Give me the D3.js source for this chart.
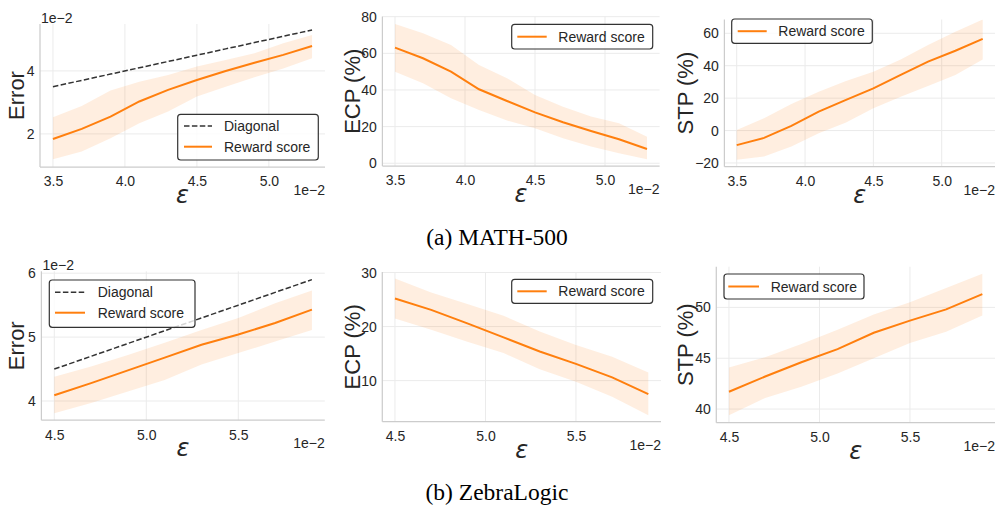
<!DOCTYPE html>
<html>
<head>
<meta charset="utf-8">
<script src="https://cdn.jsdelivr.net/npm/d3@7"></script>
<style>
  body { margin: 0; background: #fff; }
  svg { display: block; }
  .tick text { font-family: 'Liberation Sans', Arial, sans-serif; font-size: 14px; fill: #262626; }
</style>
</head>
<body>
<div id="chart"></div>
<script>
// epsilon values (x 1e-2)
const epsMath = [3.5, 3.7, 3.9, 4.1, 4.3, 4.5, 4.7, 4.9, 5.1, 5.3];
const epsZebra = [4.5, 4.7, 4.9, 5.1, 5.3, 5.5, 5.7, 5.9];

// MATH-500 (error in 1e-2)
const mathErrMean = [1.84, 2.16, 2.55, 3.03, 3.40, 3.71, 4.00, 4.26, 4.51, 4.79];
const mathErrHi = [2.53, 2.89, 3.38, 3.66, 3.87, 4.14, 4.35, 4.56, 4.88, 5.14];
const mathErrLo = [1.20, 1.44, 1.86, 2.34, 2.71, 3.19, 3.50, 3.80, 4.08, 4.40];
const mathEcpMean = [63.1, 57.3, 50.0, 40.4, 34.0, 27.8, 22.4, 17.6, 13.1, 7.8];
const mathEcpHi = [76.0, 70.9, 64.5, 53.6, 46.4, 37.3, 30.9, 25.5, 21.8, 14.5];
const mathEcpLo = [50.0, 43.6, 35.5, 29.1, 23.3, 19.1, 13.6, 9.1, 5.5, 2.2];
const mathStpMean = [-9.0, -4.5, 2.9, 11.7, 18.9, 26.0, 34.3, 42.5, 49.2, 56.6];
const mathStpHi = [0.4, 7.6, 16.4, 24.0, 30.6, 36.3, 43.9, 52.7, 60.9, 68.5];
const mathStpLo = [-18.0, -16.0, -9.8, -1.6, 4.9, 13.7, 20.9, 27.5, 34.3, 43.9];

// ZebraLogic
const zebraErrMean = [4.09, 4.28, 4.48, 4.68, 4.88, 5.04, 5.22, 5.43];
const zebraErrHi = [4.38, 4.54, 4.72, 4.91, 5.11, 5.30, 5.53, 5.73];
const zebraErrLo = [3.81, 3.97, 4.15, 4.33, 4.57, 4.75, 4.93, 5.11];
const zebraEcpMean = [25.2, 23.1, 20.6, 18.0, 15.4, 13.1, 10.6, 7.5];
const zebraEcpHi = [28.9, 26.3, 24.2, 22.0, 19.1, 16.6, 14.4, 11.5];
const zebraEcpLo = [21.5, 19.4, 17.2, 15.1, 12.1, 9.8, 7.0, 3.6];
const zebraStpMean = [41.7, 43.2, 44.6, 45.9, 47.5, 48.7, 49.8, 51.3];
const zebraStpHi = [44.1, 45.1, 46.4, 47.8, 49.3, 50.5, 51.9, 53.3];
const zebraStpLo = [39.4, 41.1, 42.2, 43.5, 45.0, 46.5, 47.6, 49.2];

const xTicksMath = [3.5, 4.0, 4.5, 5.0];
const xTicksZebra = [4.5, 5.0, 5.5];

const captions = ['(a) MATH-500', '(b) ZebraLogic'];

const W = 996;
const H = 506;
const ORANGE = '#ff7f0e';
const TEXT = '#262626';
const FONT = "'Liberation Sans', Arial, sans-serif";

const panels = [
  { box: [40, 325, 24, 167], xd: [3.41, 5.39], yd: [0.95, 5.49], eps: epsMath, xt: xTicksMath, yt: [2, 4],
    mean: mathErrMean, lo: mathErrLo, hi: mathErrHi, label: 'Error', labelX: 16, diag: true, yOff: true,
    leg: [177.7, 114.3, 140.6, 45.7], legRows: [126, 146.7], legX: [184, 212, 224] },
  { box: [382.4, 659.6, 16.5, 166], xd: [3.41, 5.39], yd: [-1.5, 80.1], eps: epsMath, xt: xTicksMath, yt: [0, 20, 40, 60, 80],
    mean: mathEcpMean, lo: mathEcpLo, hi: mathEcpHi, label: 'ECP (%)', labelX: 352,
    leg: [511.7, 24.3, 141, 24.7], legRows: [36.7], legX: [517.3, 546.7, 558.3] },
  { box: [724.4, 995, 19.5, 166.7], xd: [3.41, 5.39], yd: [-22.3, 68.5], eps: epsMath, xt: xTicksMath, yt: [-20, 0, 20, 40, 60],
    mean: mathStpMean, lo: mathStpLo, hi: mathStpHi, label: 'STP (%)', labelX: 685,
    leg: [731.7, 19, 140.6, 24.3], legRows: [31.2], legX: [737.7, 766.7, 778.3] },
  { box: [41.4, 324.8, 271.3, 420.2], xd: [4.43, 5.97], yd: [3.70, 6.03], eps: epsZebra, xt: xTicksZebra, yt: [4, 5, 6],
    mean: zebraErrMean, lo: zebraErrLo, hi: zebraErrHi, label: 'Error', labelX: 16, diag: true, yOff: true,
    leg: [49.3, 280, 145.7, 47.3], legRows: [292.3, 312.7], legX: [55, 85, 97.7] },
  { box: [382.3, 661, 272, 421.7], xd: [4.43, 5.97], yd: [2.4, 30.1], eps: epsZebra, xt: xTicksZebra, yt: [10, 20, 30],
    mean: zebraEcpMean, lo: zebraEcpLo, hi: zebraEcpHi, label: 'ECP (%)', labelX: 352,
    leg: [511.7, 279.3, 141, 24], legRows: [291.3], legX: [517.3, 546.7, 558.3] },
  { box: [716.3, 995, 266.7, 422.7], xd: [4.43, 5.97], yd: [38.66, 54.0], eps: epsZebra, xt: xTicksZebra, yt: [40, 45, 50],
    mean: zebraStpMean, lo: zebraStpLo, hi: zebraStpHi, label: 'STP (%)', labelX: 685,
    leg: [724, 274, 140, 25], legRows: [286.5], legX: [728.3, 759, 770.7] }
];

const svg = d3.select('#chart')
  .append('svg')
  .attr('width', W)
  .attr('height', H)
  .style('background', '#fff');

panels.forEach((p, i) => drawPanel(p, i));

// captions
svg.selectAll('text.caption')
  .data(captions)
  .join('text')
  .attr('class', 'caption')
  .attr('x', 497)
  .attr('y', (d, i) => (i === 0 ? 245 : 500))
  .attr('text-anchor', 'middle')
  .style('font-family', "'Liberation Serif', 'Times New Roman', serif")
  .style('font-size', '23.5px')
  .style('fill', '#000')
  .text((d) => d);

function drawPanel(p, idx) {
  const [x0, x1, y0, y1] = p.box;
  const x = d3.scaleLinear().domain(p.xd).range([x0, x1]);
  const y = d3.scaleLinear().domain(p.yd).range([y1, y0]);
  const g = svg.append('g');

  // grid
  g.selectAll('line.vgrid')
    .data(p.xt)
    .join('line')
    .attr('x1', (d) => x(d)).attr('x2', (d) => x(d))
    .attr('y1', y0).attr('y2', y1)
    .attr('stroke', '#ebebeb').attr('stroke-width', 1);
  g.selectAll('line.hgrid')
    .data(p.yt)
    .join('line')
    .attr('x1', x0).attr('x2', x1)
    .attr('y1', (d) => y(d)).attr('y2', (d) => y(d))
    .attr('stroke', '#ebebeb').attr('stroke-width', 1);

  const clipId = 'clip' + idx;
  svg.append('clipPath').attr('id', clipId)
    .append('rect')
    .attr('x', x0).attr('y', y0)
    .attr('width', x1 - x0).attr('height', y1 - y0);

  const plot = g.append('g').attr('clip-path', 'url(#' + clipId + ')');

  // band
  const area = d3.area()
    .x((d, i) => x(p.eps[i]))
    .y0((d, i) => y(p.lo[i]))
    .y1((d, i) => y(p.hi[i]));
  plot.append('path')
    .attr('d', area(p.eps))
    .attr('fill', ORANGE)
    .attr('fill-opacity', 0.13);

  // diagonal
  if (p.diag) {
    plot.append('path')
      .attr('d', d3.line().x((d) => x(d)).y((d) => y(d))(p.eps))
      .attr('fill', 'none')
      .attr('stroke', '#333')
      .attr('stroke-width', 1.5)
      .attr('stroke-dasharray', '5.5,2.4');
  }

  // mean line
  plot.append('path')
    .attr('d', d3.line().x((d, i) => x(p.eps[i])).y((d, i) => y(p.mean[i]))(p.eps))
    .attr('fill', 'none')
    .attr('stroke', ORANGE)
    .attr('stroke-width', 2);

  // spines
  g.append('line').attr('x1', x0).attr('x2', x0).attr('y1', y0).attr('y2', y1)
    .attr('stroke', '#cccccc').attr('stroke-width', 1.25);
  g.append('line').attr('x1', x0).attr('x2', x1).attr('y1', y1).attr('y2', y1)
    .attr('stroke', '#cccccc').attr('stroke-width', 1.25);

  // axes (labels only)
  const gx = g.append('g')
    .attr('transform', 'translate(0,' + y1 + ')')
    .call(d3.axisBottom(x).tickValues(p.xt).tickFormat(d3.format('.1f')).tickSize(0).tickPadding(9.5));
  gx.select('.domain').remove();
  const gy = g.append('g')
    .attr('transform', 'translate(' + x0 + ',0)')
    .call(d3.axisLeft(y).tickValues(p.yt).tickFormat(d3.format('d')).tickSize(0).tickPadding(5.5));
  gy.select('.domain').remove();
  g.selectAll('.tick text').style('font-family', FONT).style('font-size', '14px').style('fill', TEXT);

  // y label
  g.append('text')
    .attr('transform', 'translate(' + p.labelX + ',' + (y0 + y1) / 2 + ') rotate(-90)')
    .attr('text-anchor', 'middle')
    .attr('dominant-baseline', 'central')
    .style('font-family', FONT)
    .style('font-size', '22px')
    .style('fill', TEXT)
    .text(p.label);

  // x label
  g.append('text')
    .attr('x', (x0 + x1) / 2)
    .attr('y', y1 + 28)
    .attr('text-anchor', 'middle')
    .attr('dominant-baseline', 'central')
    .style('font-family', "'DejaVu Sans', sans-serif")
    .style('font-style', 'italic')
    .style('font-size', '24px')
    .style('fill', TEXT)
    .text('\u03b5');

  // offset texts
  g.append('text')
    .attr('x', x1)
    .attr('y', y1 + 23)
    .attr('text-anchor', 'end')
    .attr('dominant-baseline', 'central')
    .style('font-family', FONT)
    .style('font-size', '14px')
    .style('fill', TEXT)
    .text('1e\u22122');
  if (p.yOff) {
    g.append('text')
      .attr('x', x0 + 1)
      .attr('y', y0 - 6)
      .attr('dominant-baseline', 'central')
      .style('font-family', FONT)
      .style('font-size', '14px')
      .style('fill', TEXT)
      .text('1e\u22122');
  }

  // legend
  const [lx, ly, lw, lh] = p.leg;
  const lg = g.append('g');
  lg.append('rect')
    .attr('x', lx).attr('y', ly).attr('width', lw).attr('height', lh)
    .attr('rx', 3)
    .attr('fill', '#fff').attr('fill-opacity', 0.8)
    .attr('stroke', '#333').attr('stroke-width', 1.2);
  const entries = p.diag ? ['Diagonal', 'Reward score'] : ['Reward score'];
  entries.forEach((name, k) => {
    const ry = p.legRows[k];
    lg.append('line')
      .attr('x1', p.legX[0]).attr('x2', p.legX[1])
      .attr('y1', ry).attr('y2', ry)
      .attr('stroke', name === 'Diagonal' ? '#333' : ORANGE)
      .attr('stroke-width', name === 'Diagonal' ? 1.5 : 2)
      .attr('stroke-dasharray', name === 'Diagonal' ? '5.5,2.4' : null);
    lg.append('text')
      .attr('x', p.legX[2]).attr('y', ry)
      .attr('dominant-baseline', 'central')
      .style('font-family', FONT)
      .style('font-size', '14px')
      .style('fill', TEXT)
      .text(name);
  });
}
</script>
</body>
</html>
